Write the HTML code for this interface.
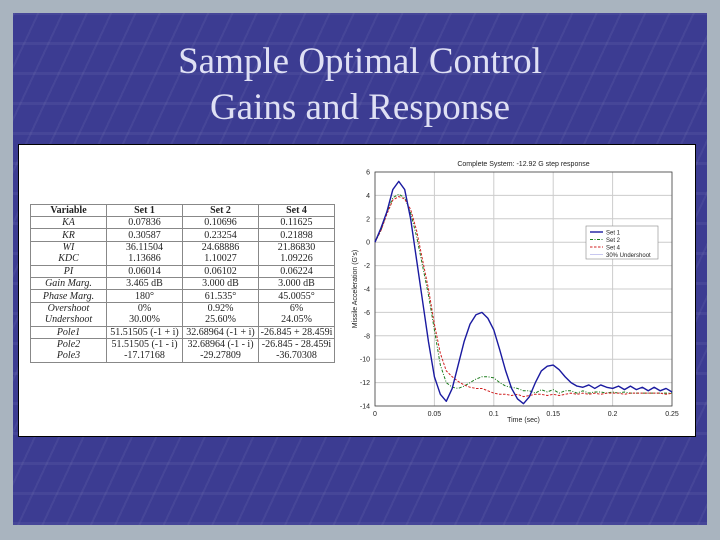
<!DOCTYPE html>
<html><head><meta charset="utf-8"><style>
body{margin:0;width:720px;height:540px;overflow:hidden;background:#a9b4bf;}
#slide{position:absolute;left:13px;top:13px;width:694px;height:512px;background:#3c3c92;
background-image:repeating-linear-gradient(115deg,rgba(255,255,255,0.05) 0 2px,transparent 2px 22px),repeating-linear-gradient(0deg,rgba(255,255,255,0.05) 0 3px,transparent 3px 30px);}
.title{position:absolute;left:0;width:720px;text-align:center;font-family:"Liberation Serif",serif;font-size:37px;color:#dfe0f4;}
#panel{position:absolute;left:18px;top:144px;width:678px;height:293px;background:#fff;border:1px solid #000;box-sizing:border-box;}
table{position:absolute;left:30px;top:204px;border-collapse:collapse;font-family:"Liberation Serif",serif;font-size:10px;color:#222;}
td{border:1px solid #888;width:75px;height:11.4px;padding:0;text-align:center;line-height:11px;}
td:first-child{font-style:italic;width:75px}
tr.nb td{border-top:none}
tr.na td{border-bottom:none}
th{border:1px solid #888;font-size:10px;height:11px;padding:0}
</style></head><body>
<div id="slide"></div>
<div class="title" style="top:40px">Sample Optimal Control</div>
<div class="title" style="top:86px">Gains and Response</div>
<div id="panel"></div>
<table>
<tr><th>Variable</th><th>Set 1</th><th>Set 2</th><th>Set 4</th></tr>
<tr><td>KA</td><td>0.07836</td><td>0.10696</td><td>0.11625</td></tr>
<tr><td>KR</td><td>0.30587</td><td>0.23254</td><td>0.21898</td></tr>
<tr class="na"><td>WI</td><td>36.11504</td><td>24.68886</td><td>21.86830</td></tr>
<tr class="nb"><td>KDC</td><td>1.13686</td><td>1.10027</td><td>1.09226</td></tr>
<tr><td>PI</td><td>0.06014</td><td>0.06102</td><td>0.06224</td></tr>
<tr><td>Gain Marg.</td><td>3.465 dB</td><td>3.000 dB</td><td>3.000 dB</td></tr>
<tr><td>Phase Marg.</td><td>180°</td><td>61.535°</td><td>45.0055°</td></tr>
<tr class="na"><td>Overshoot</td><td>0%</td><td>0.92%</td><td>6%</td></tr>
<tr class="nb"><td>Undershoot</td><td>30.00%</td><td>25.60%</td><td>24.05%</td></tr>
<tr><td>Pole1</td><td>51.51505 (-1 + i)</td><td>32.68964 (-1 + i)</td><td>-26.845 + 28.459i</td></tr>
<tr class="na"><td>Pole2</td><td>51.51505 (-1 - i)</td><td>32.68964 (-1 - i)</td><td>-26.845 - 28.459i</td></tr>
<tr class="nb"><td>Pole3</td><td>-17.17168</td><td>-29.27809</td><td>-36.70308</td></tr>
</table>
<svg id="chart" width="720" height="540" style="position:absolute;left:0;top:0" font-family="Liberation Sans, sans-serif"></svg>
<script>
const times=[];for(let i=0;i<=50;i++)times.push(i*0.005);
const set1=[0,1.2,2.6,4.5,5.2,4.5,2,-1.5,-5,-8.5,-11.5,-13,-13.6,-12.5,-10.5,-8.5,-7,-6.2,-6,-6.5,-7.5,-9.2,-11,-12.5,-13.4,-13.8,-13.2,-12,-11,-10.6,-10.5,-10.9,-11.5,-12,-12.3,-12.4,-12.2,-12.5,-12.2,-12.4,-12.5,-12.3,-12.6,-12.3,-12.6,-12.4,-12.7,-12.4,-12.7,-12.5,-12.8];
const set2=[0,1,2.5,3.8,4.1,3.8,2.5,0.5,-2,-4.5,-7.5,-10.5,-12,-12.4,-12.5,-12.3,-12,-11.7,-11.5,-11.5,-11.6,-12,-12.3,-12.4,-12.5,-12.7,-12.7,-12.9,-12.6,-12.8,-12.6,-12.9,-12.7,-12.7,-12.9,-12.7,-12.9,-12.8,-12.8,-12.9,-12.8,-12.9,-12.8,-12.9,-12.9,-12.9,-12.9,-12.9,-12.9,-12.9,-12.9];
const set4=[0,1,2.4,3.6,3.9,3.7,2.8,1,-1.5,-4,-7,-9.5,-11,-11.5,-11.9,-12.2,-12.4,-12.5,-12.5,-12.7,-12.9,-13,-13,-13.1,-13,-13.2,-13.1,-13,-13,-13.1,-13,-13.1,-13,-12.9,-13,-12.9,-13,-12.9,-13,-12.9,-12.9,-12.9,-13,-12.9,-12.9,-12.9,-12.9,-12.9,-12.9,-13,-12.9];
const xTicks=[0,0.05,0.1,0.15,0.2,0.25];
const xTickLabels=["0","0.05","0.1","0.15","0.2","0.25"];
const yTicks=[6,4,2,0,-2,-4,-6,-8,-10,-12,-14];
const L=375,R=672,T=172,B=406;
const sx=v=>L+(v-0)/(0.25)*(R-L);
const sy=v=>T+(6-v)/20*(B-T);
const svg=document.getElementById('chart');
const NS='http://www.w3.org/2000/svg';
function mk(t,a,p){const e=document.createElementNS(NS,t);for(const k in a)e.setAttribute(k,a[k]);(p||svg).appendChild(e);return e;}
xTicks.forEach((v,i)=>{
 const g=mk('line',{x1:sx(v),x2:sx(v),y1:T,y2:B,stroke:'#ccc','stroke-width':1});
 
 
 const t=mk('text',{x:sx(v),y:B+10,'font-size':7,'text-anchor':'middle',fill:'#222'});t.textContent=xTickLabels[i];
 
 
});
yTicks.forEach(v=>{
 const g=mk('line',{x1:L,x2:R,y1:sy(v),y2:sy(v),stroke:'#ccc','stroke-width':1});
 
 
 const t=mk('text',{x:L-5,y:sy(v)+2.5,'font-size':7,'text-anchor':'end',fill:'#222'});t.textContent=String(v);
 
 
});
const ax=mk('rect',{x:L,y:T,width:R-L,height:B-T,fill:'none',stroke:'#444','stroke-width':0.8});


const tt=mk('text',{x:(L+R)/2,y:166,'font-size':7,'text-anchor':'middle',fill:'#222'});tt.textContent='Complete System: -12.92 G step response';


const xt=mk('text',{x:(L+R)/2,y:422,'font-size':7,'text-anchor':'middle',fill:'#222'});xt.textContent='Time (sec)';


const yt=mk('text',{x:357,y:(T+B)/2,'font-size':7,'text-anchor':'middle',fill:'#222',transform:`rotate(-90 357 ${(T+B)/2})`});yt.textContent='Missile Acceleration (G\'s)';


function line(data,color,dash,w,name){
 const p=mk('polyline',{points:data.map((v,i)=>sx(times[i])+','+sy(v)).join(' '),fill:'none',stroke:color,'stroke-width':w,'stroke-dasharray':dash,'stroke-linejoin':'round'});
 
 
}
line(set2,'#1a7a1a','3,1.5,1,1.5',1,'series-set-2');
line(set4,'#d02020','2.5,1.5',1,'series-set-4');
line(set1,'#1a1aa0','',1.4,'series-set-1');
const lg=mk('rect',{x:586,y:226,width:72,height:33,fill:'#fff',stroke:'#888','stroke-width':0.6});


const items=[['Set 1','#1a1aa0',''],['Set 2','#1a7a1a','3,1.5,1,1.5'],['Set 4','#d02020','2.5,1.5'],['30% Undershoot','#c8c8f0','']];
items.forEach((it,i)=>{
 const y=232+i*7.5;
 const l=mk('line',{x1:590,x2:603,y1:y,y2:y,stroke:it[1],'stroke-width':i==0?1.4:1,'stroke-dasharray':it[2]});
 
 
 const t=mk('text',{x:606,y:y+2.3,'font-size':6,fill:'#222'});t.textContent=it[0];
 
 
});
</script>
</body></html>
